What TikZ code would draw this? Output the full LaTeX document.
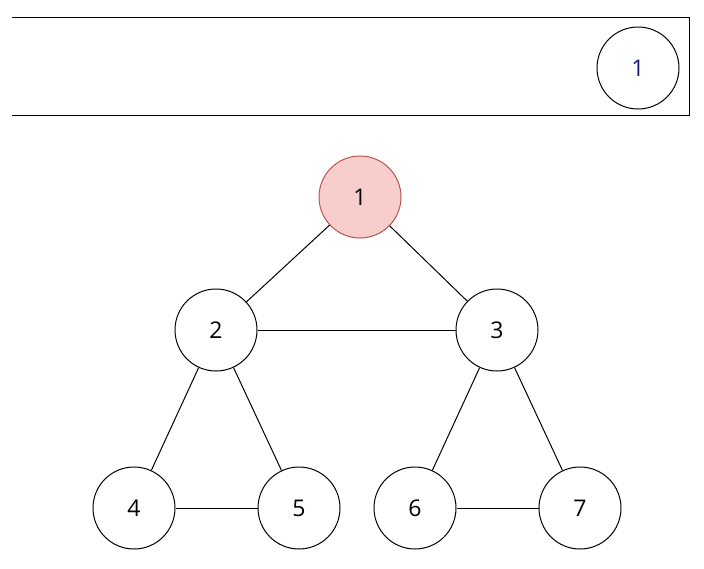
\documentclass[tikz,border=0pt]{standalone}
\usepackage{fontspec}
\setmainfont{Open Sans}
\usetikzlibrary{positioning}
\definecolor{rootfill}{HTML}{F8CECC}
\definecolor{rootdraw}{HTML}{B85450}
\definecolor{qtext}{HTML}{1A1A7A}
\begin{document}
\begin{tikzpicture}[x=1pt, y=-1pt, line width=1pt,
  vertex/.style={circle, draw, minimum size=82pt, inner sep=0pt, font=\fontsize{23}{27}\selectfont}]
  \useasboundingbox (0,0) rectangle (704,568);
  % Queue box
  \draw (12,17) -- (689,17) -- (689,115) -- (12,115);
  \node[vertex, text=qtext] (q1) at (638,68) {1};
  % Tree nodes
  \node[vertex, fill=rootfill, draw=rootdraw] (n1) at (360,197) {1};
  \node[vertex] (n2) at (216,330) {2};
  \node[vertex] (n3) at (497,330) {3};
  \node[vertex] (n4) at (134,508) {4};
  \node[vertex] (n5) at (299,508) {5};
  \node[vertex] (n6) at (415,508) {6};
  \node[vertex] (n7) at (580,508) {7};

  % Edges
  \foreach \a/\b in {n1/n2, n1/n3, n2/n3, n2/n4, n2/n5, n3/n6, n3/n7, n4/n5, n6/n7} {
    \draw (\a) -- (\b);
  }
\end{tikzpicture}
\end{document}
